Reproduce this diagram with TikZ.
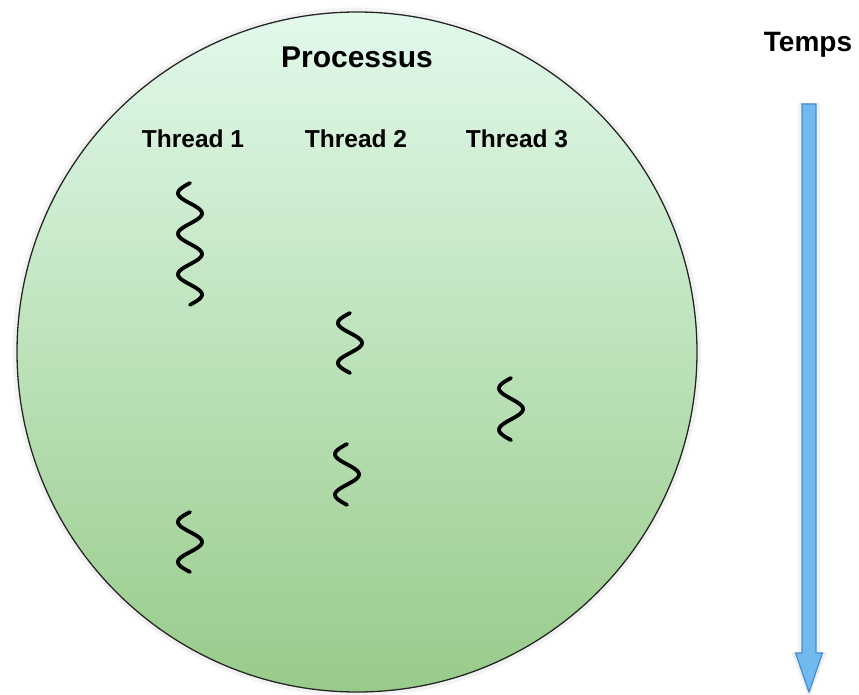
\documentclass[tikz,border=0pt]{standalone}
\usepackage{fontspec}
\setmainfont{Liberation Sans}
\definecolor{mintTop}{RGB}{226,249,235}
\definecolor{mintBot}{RGB}{152,203,138}
\definecolor{arrowFill}{RGB}{112,186,240}
\definecolor{arrowLine}{RGB}{66,140,210}
\tikzset{
  title/.style={font=\bfseries\fontsize{30}{36}\selectfont, inner sep=0pt, anchor=base},
  thlabel/.style={font=\bfseries\fontsize{24.5}{29}\selectfont, inner sep=0pt, anchor=base},
  thr/.style={line width=3.8pt, line cap=round, black},
}
% a vertical wavy thread: centre x, top y, half-wave height, number of half-waves
\newcommand{\wavyline}[4]{%
  \draw[thr] plot[domain=0:#4, samples=90, smooth, variable=\t]
    ({#1-12*sin(\t*180)}, {#2+#3*\t});}
\begin{document}
\begin{tikzpicture}[x=1pt, y=-1pt]
\useasboundingbox (0,0) rectangle (859,695);

% soft halo around the process
\foreach \i in {1,...,4}
  \draw[black, opacity=0.03, line width=1.5pt] (357,352) circle [radius=340+\i];
% the process
\node[circle, minimum size=680pt, inner sep=0pt, draw=black!85, line width=1.3pt,
      top color=mintTop, bottom color=mintBot] (proc) at (357,352) {};

\node[title] (ptitle) at (357,68) {Processus};
\node[thlabel] (t1) at (193,148) {Thread 1};
\node[thlabel] (t2) at (356,148) {Thread 2};
\node[thlabel] (t3) at (517,148) {Thread 3};

% threads
\wavyline{190}{183}{20.3}{6}
\wavyline{190}{512}{20}{3}
\wavyline{350}{313}{20}{3}
\wavyline{347}{444}{20.3}{3}
\wavyline{511}{378}{20.7}{3}

% time axis
\node[title, font=\bfseries\fontsize{28}{34}\selectfont] (temps) at (808,52) {Temps};
\coordinate (ttop) at (809,104);
\coordinate (ttip) at (809,692);
\foreach \i in {1,...,4}
  \draw[black, opacity=0.03, line width=1.5pt, line join=round]
    ([xshift=-7pt-\i]ttop) -- ([xshift=-7pt-\i, yshift=39pt]ttip)
    -- ([xshift=-13.5pt-\i, yshift=39pt]ttip) -- ([yshift=-\i]ttip)
    -- ([xshift=13.5pt+\i, yshift=39pt]ttip) -- ([xshift=7pt+\i, yshift=39pt]ttip)
    -- ([xshift=7pt+\i]ttop) -- cycle;
\draw[fill=arrowFill, draw=arrowLine, line width=1.2pt, line join=round]
  ([xshift=-7pt]ttop) -- ([xshift=-7pt, yshift=39pt]ttip)
  -- ([xshift=-13.5pt, yshift=39pt]ttip) -- (ttip)
  -- ([xshift=13.5pt, yshift=39pt]ttip) -- ([xshift=7pt, yshift=39pt]ttip)
  -- ([xshift=7pt]ttop) -- cycle;
\end{tikzpicture}
\end{document}
